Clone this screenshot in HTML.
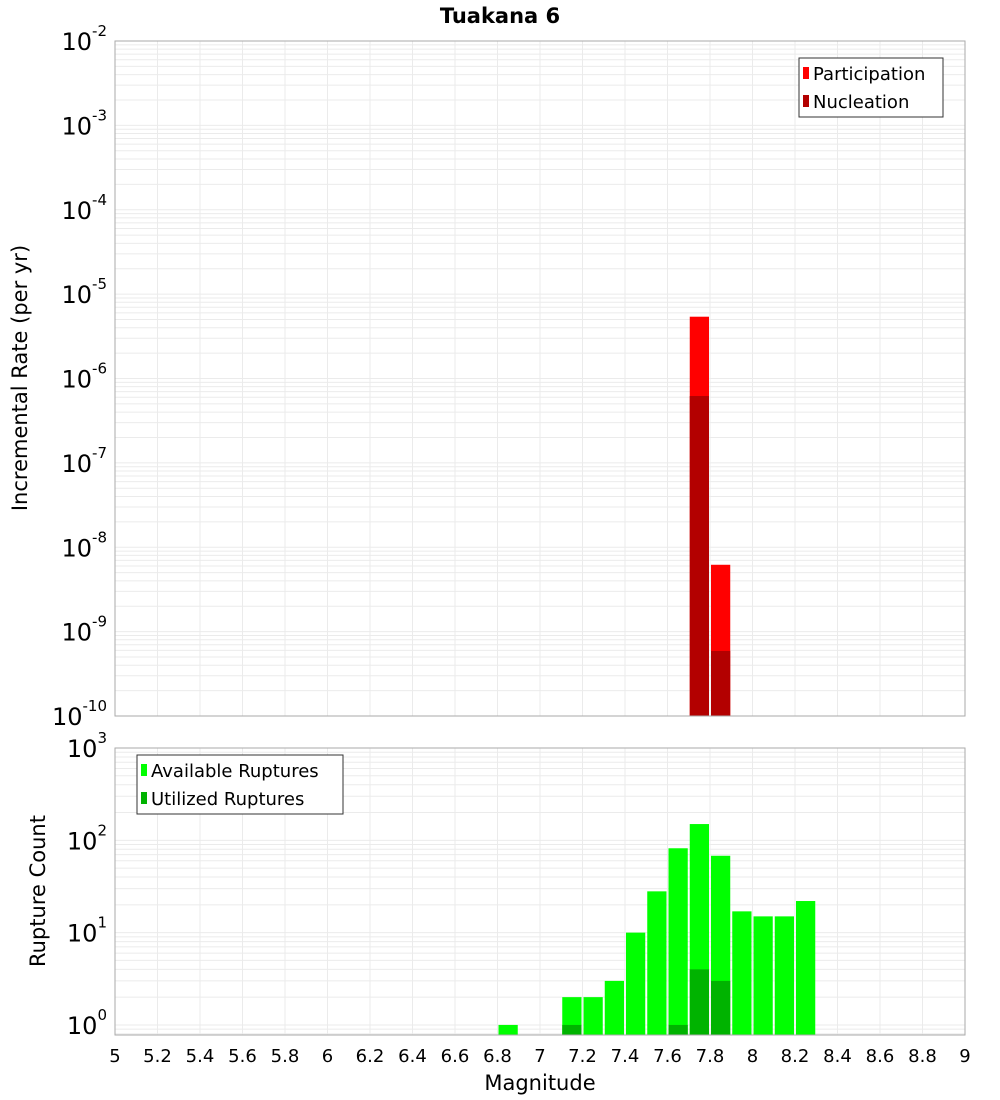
<!DOCTYPE html>
<html><head><meta charset="utf-8"><style>
body{margin:0;background:#fff;}
svg{display:block;font-family:"DejaVu Sans","Liberation Sans",sans-serif;}
</style></head><body>
<svg id="chart" width="1000" height="1100">
<text x="500" y="23" text-anchor="middle" font-size="21" font-weight="bold">Tuakana 6</text>
<text transform="translate(27,378) rotate(-90)" text-anchor="middle" font-size="21">Incremental Rate (per yr)</text>
<text transform="translate(45,891) rotate(-90)" text-anchor="middle" font-size="21">Rupture Count</text>
<text x="540" y="1090" text-anchor="middle" font-size="21">Magnitude</text>
<g id="top"></g><g id="bot"></g>
</svg>
<script>
const mags=[6.85,6.95,7.05,7.15,7.25,7.35,7.45,7.55,7.65,7.75,7.85,7.95,8.05,8.15,8.25];
const partRate=[0,0,0,0,0,0,0,0,0,5.4e-6,6.2e-9,0,0,0,0];
const nuclRate=[0,0,0,0,0,0,0,0,0,6.2e-7,5.9e-10,0,0,0,0];
const available=[1,0,0,2,2,3,10,28,82,150,68,17,15,15,22];
const utilized=[0,0,0,1,0,0,0,0,1,4,3,0,0,0,0];
const xTicks=["5","5.2","5.4","5.6","5.8","6","6.2","6.4","6.6","6.8","7","7.2","7.4","7.6","7.8","8","8.2","8.4","8.6","8.8","9"];
const NS="http://www.w3.org/2000/svg";
const L=115,R=965;
const xs=m=>L+(m-5)/4*(R-L);
function mk(p,t,a){const e=document.createElementNS(NS,t);for(const k in a)e.setAttribute(k,a[k]);p.appendChild(e);return e;}
function panel(g,top,bot,lmin,lmax,name){
  const ys=v=>bot-(Math.log10(v)-lmin)/(lmax-lmin)*(bot-top);
  for(let d=Math.floor(lmin);d<lmax;d++)for(let k=1;k<10;k++){const v=k*Math.pow(10,d);const y=ys(v);if(y<top-0.1||y>bot)continue;
    const l=mk(g,'line',{x1:L,x2:R,y1:y,y2:y,stroke:'#ebebeb','stroke-width':1});
    }
  for(let i=0;i<=40;i+=2){const x=xs(5+i/10);const l=mk(g,'line',{x1:x,x2:x,y1:top,y2:bot,stroke:'#ebebeb','stroke-width':1});
    }
  for(let d=Math.ceil(lmin);d<=lmax;d++){const y=ys(Math.pow(10,d));
    const t=mk(g,'text',{x:107,y:y+9,'text-anchor':'end','font-size':24});
    
    t.textContent='10';const s=mk(t,'tspan',{dy:-14,'font-size':15});s.textContent=String(d);}
  return ys;
}
const gt=document.getElementById('top'),gb=document.getElementById('bot');
const yt=panel(gt,41,716,-10,-2,'top');
const yb=panel(gb,748,1035,-0.109,3,'bottom');
function bars(g,ys,vals,col,base,name){vals.forEach((v,i)=>{if(!v)return;const x0=xs(mags[i]-0.05)+1,x1=xs(mags[i]+0.05)-1;const y=ys(v);
  const r=mk(g,'rect',{x:x0,y:y,width:x1-x0,height:base-y,fill:col});});}
bars(gt,yt,partRate,'#ff0000',716,'participation');
bars(gt,yt,nuclRate,'#b30000',716,'nucleation');
bars(gb,yb,available,'#00ff00',1035,'available');
bars(gb,yb,utilized,'#00b300',1035,'utilized');
[[gt,41,716,'top'],[gb,748,1035,'bottom']].forEach(([g,t,b,n])=>{const r=mk(g,'rect',{x:L,y:t,width:R-L,height:b-t,fill:'none',stroke:'#aaaaaa','stroke-width':1});
  });
xTicks.forEach((s,i)=>{const t=mk(gb,'text',{x:xs(+s),y:1062,'text-anchor':'middle','font-size':18});
  t.textContent=s;});
function legend(g,x,y,w,h,items,name){const f=mk(g,'rect',{x:x,y:y,width:w,height:h,fill:'#fff',stroke:'#333','stroke-width':1});
  
  items.forEach(([lab,c],i)=>{const yy=y+15+i*28;const sw=mk(g,'rect',{x:x+4,y:yy-6,width:6,height:12,fill:c});
    
    const t=mk(g,'text',{x:x+14,y:yy+7,'font-size':18});t.textContent=lab;});}
legend(gt,799,58,144,59,[['Participation','#ff0000'],['Nucleation','#b30000']],'top-legend');
legend(gb,137,755,206,59,[['Available Ruptures','#00ff00'],['Utilized Ruptures','#00b300']],'bottom-legend');
</script>
</body></html>
